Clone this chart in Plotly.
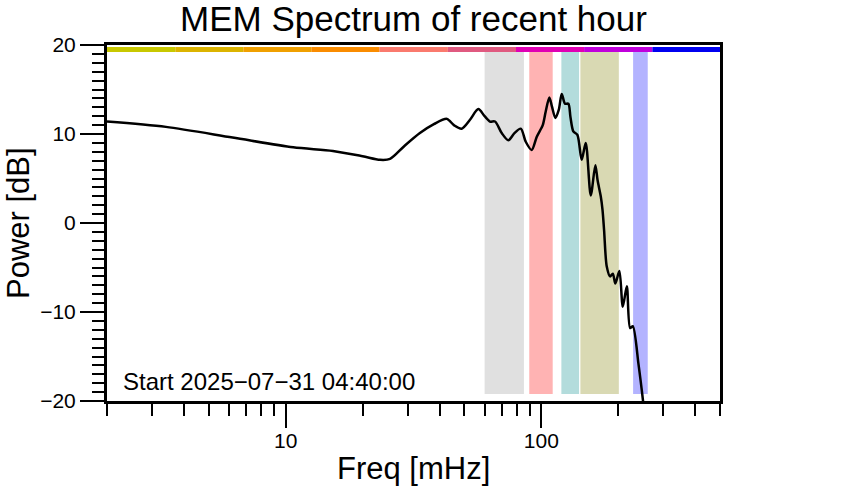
import plotly.graph_objects as go

# ---- data ----
freq_mhz = [2.0, 3.4, 6.2, 10.7, 15.3, 20.0, 23.4, 25.6, 29.0, 33.5, 38.0, 42.7, 45.5, 48.8,
            52.6, 56.7, 60.0, 63.0, 65.9, 70.0, 74.3, 78.5, 83.1, 87.0, 91.7, 96.0, 101.3,
            104.0, 107.5, 110.0, 113.5, 117.0, 120.2, 123.8, 127.6, 130.0, 133.4, 138.4,
            143.8, 149.2, 156.1, 162.7, 166.0, 170.8, 173.5, 176.0, 180.3, 185.8, 190.4,
            194.8, 202.0, 208.3, 216.0, 222.5, 228.0, 239.8, 247.2, 254.7]
power_db = [11.4, 10.8, 9.6, 8.5, 8.1, 7.5, 7.1, 7.2, 8.6, 10.1, 11.1, 11.7, 11.0, 10.6,
            11.6, 12.8, 12.0, 11.4, 11.4, 10.1, 9.3, 10.1, 10.6, 9.1, 8.2, 9.7, 11.0,
            12.5, 14.1, 13.1, 11.8, 12.7, 14.5, 13.4, 13.4, 11.9, 10.3, 9.9,
            7.1, 9.0, 3.1, 6.5, 4.8, 3.0, 1.5, -0.8, -4.9, -6.0, -5.7,
            -6.8, -5.4, -9.4, -7.1, -11.8, -11.6, -15.8, -18.8, -22.0]

band_lo = [60.0, 89.7, 119.8, 142.2, 228.6]
band_hi = [85.5, 110.8, 140.5, 201.0, 260.8]
band_colors = ["#e0e0e0", "#ffb3b3", "#b3dcdc", "#d9d9b3", "#b3b3ff"]
band_y = [-19.2, 19.2]

bar_edges = [2.0, 3.7, 6.83, 12.6, 23.3, 43.1, 79.6, 147.0, 272.0, 500.0]
bar_colors = ["#c8c800", "#dcb400", "#f0a000", "#fa8c00", "#fa7a6e",
              "#e05a80", "#e000b4", "#c000dc", "#0000f0"]
bar_y = 19.5

x_major = [10, 100]
x_major_text = ["10", "100"]
x_minor = [2, 3, 4, 5, 6, 7, 8, 9, 20, 30, 40, 50, 60, 70, 80, 90, 200, 300, 400, 500]
y_major = [-20, -10, 0, 10, 20]

title_text = "MEM Spectrum of recent hour"
x_title = "Freq [mHz]"
y_title = "Power [dB]"
start_text = "Start 2025\u221207\u221231 04:40:00"

FONT = "Liberation Sans, Arial, Helvetica, sans-serif"

fig = go.Figure()

for lo, hi, c in zip(band_lo, band_hi, band_colors):
    fig.add_trace(go.Scatter(
        x=[lo, hi, hi, lo, lo], y=[band_y[0], band_y[0], band_y[1], band_y[1], band_y[0]],
        mode="lines", fill="toself", fillcolor=c, line=dict(width=0, color=c),
        hoverinfo="skip", showlegend=False))

for i, c in enumerate(bar_colors):
    fig.add_trace(go.Scatter(
        x=[bar_edges[i], bar_edges[i + 1]], y=[bar_y, bar_y], mode="lines",
        line=dict(color=c, width=5), hoverinfo="skip", showlegend=False))

fig.add_trace(go.Scatter(
    x=freq_mhz, y=power_db, mode="lines",
    line=dict(color="black", width=2.5, shape="spline", smoothing=0.8),
    showlegend=False))

L, T, PW, PH = 107, 45, 613, 356
fig.update_layout(
    width=842, height=500,
    margin=dict(l=L, r=842 - L - PW, t=T, b=500 - T - PH),
    paper_bgcolor="white", plot_bgcolor="white",
    font=dict(family=FONT, color="black", size=21),
    title=dict(text=title_text, x=(L + PW / 2) / 842, xanchor="center",
               y=1 - 19 / 500, yanchor="middle", yref="container",
               font=dict(size=35, family=FONT, color="black")),
)

fig.update_xaxes(
    type="log", range=[0.30103, 2.69897], autorange=False,
    tickvals=x_major, ticktext=x_major_text, ticks="outside", ticklen=24, tickwidth=2,
    tickcolor="black", showgrid=False, zeroline=False, ticklabelstandoff=-5,
    showline=True, linecolor="black", linewidth=3, mirror=True,
    tickfont=dict(size=21, family=FONT),
    minor=dict(tickvals=x_minor, ticks="outside", ticklen=12, tickwidth=2,
               tickcolor="black", showgrid=False),
)
fig.update_yaxes(
    range=[-20, 20], autorange=False,
    tickvals=y_major, ticks="outside", ticklen=24, tickwidth=2, tickcolor="black",
    showgrid=False, zeroline=False,
    showline=True, linecolor="black", linewidth=3, mirror=True,
    tickfont=dict(size=21, family=FONT),
    minor=dict(dtick=1, ticks="outside", ticklen=12, tickwidth=2,
               tickcolor="black", showgrid=False),
)

fig.add_annotation(text=x_title, xref="paper", yref="paper", x=0.5, y=-(468 - 401) / PH,
                   xanchor="center", yanchor="middle", showarrow=False,
                   font=dict(size=31, family=FONT, color="black"))
fig.add_annotation(text=y_title, xref="paper", yref="paper", x=-(107 - 18) / PW, y=0.5,
                   xanchor="center", yanchor="middle", textangle=-90, showarrow=False,
                   font=dict(size=31, family=FONT, color="black"))
fig.add_annotation(text=start_text, xref="paper", yref="paper", x=(121 - 107) / PW,
                   y=(401 - 381) / PH, xanchor="left", yanchor="middle", showarrow=False,
                   font=dict(size=24, family=FONT, color="black"))

fig.write_html("out.html", config={"displayModeBar": False},
               post_script="document.body.style.margin='0px';")
